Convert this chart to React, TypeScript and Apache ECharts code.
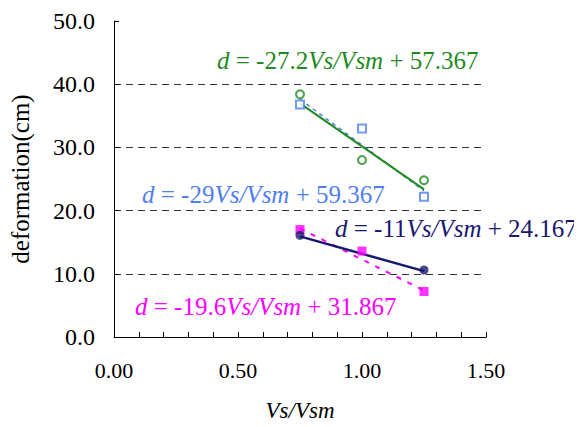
import React, { useEffect, useRef } from "react";
import * as echarts from "echarts";

const xValues = [0.75, 1.0, 1.25];
const greenValues = [38.4, 28.0, 24.8];
const blueValues = [36.8, 33.0, 22.2];
const navyX = [0.75, 1.25];
const navyValues = [16.1, 10.6];
const magentaValues = [17.0, 13.6, 7.2];

// trendline coefficients (slope, intercept)
const greenFit = [-27.2, 57.367];
const blueFit = [-29, 59.367];
const navyFit = [-11, 24.167];
const magentaFit = [-19.6, 31.867];
const fitRange = [0.75, 1.25];

const xTicks = [0, 0.5, 1.0, 1.5];
const yTicks = [0, 10, 20, 30, 40, 50];

const GREEN = "#1f8a1f";
const BLUE = "#4f7ff0";
const NAVY = "#18186e";
const MAGENTA = "#ff00ff";
const FONT = "Times New Roman, Liberation Serif, serif";

const pts = (xs: number[], ys: number[]) => xs.map((x, i) => [x, ys[i]]);
const fitLine = (f: number[]) => fitRange.map((x) => [x, f[0] * x + f[1]]);

const eqLabel = (
  slope: string,
  intercept: string,
  left: number,
  top: number,
  color: string
) => ({
  type: "text",
  left,
  top,
  z: 100,
  style: {
    text: `{i|d} = ${slope}{i|Vs/Vsm} + ${intercept}`,
    fill: color,
    fontFamily: FONT,
    fontSize: 25,
    rich: {
      i: { fontStyle: "italic", fontFamily: FONT, fontSize: 25, fill: color },
    },
  },
});

export default function App() {
  const ref = useRef<HTMLDivElement>(null);
  useEffect(() => {
    if (!ref.current) return;
    const chart = echarts.init(ref.current, undefined, { renderer: "svg" });
    chart.setOption({
      animation: false,
      backgroundColor: "#ffffff",
      textStyle: { fontFamily: FONT },
      grid: { left: 111, right: 96, top: 21, bottom: 90, containLabel: false },
      xAxis: {
        type: "value",
        min: xTicks[0],
        max: xTicks[xTicks.length - 1],
        interval: 0.5,
        name: "Vs/Vsm",
        nameLocation: "middle",
        nameGap: 62,
        nameTextStyle: {
          fontFamily: FONT,
          fontSize: 23,
          fontStyle: "italic",
          color: "#000",
        },
        axisLine: { show: true, lineStyle: { color: "#000", width: 1 } },
        axisTick: { show: true, inside: true, length: 5, lineStyle: { color: "#000" } },
        minorTick: { show: true, splitNumber: 5, length: 5, lineStyle: { color: "#000" } },
        splitLine: { show: false },
        axisLabel: {
          margin: 22,
          fontFamily: FONT,
          fontSize: 22,
          color: "#000",
          formatter: (v: number) => v.toFixed(2),
        },
      },
      yAxis: {
        type: "value",
        min: yTicks[0],
        max: yTicks[yTicks.length - 1],
        interval: 10,
        name: "deformation(cm)",
        nameLocation: "middle",
        nameGap: 81,
        nameTextStyle: { fontFamily: FONT, fontSize: 25, color: "#000" },
        axisLine: { show: true, lineStyle: { color: "#000", width: 1 } },
        axisTick: { show: true, inside: true, length: 5, lineStyle: { color: "#000" } },
        splitLine: {
          show: true,
          showMinLine: false,
          showMaxLine: false,
          lineStyle: { color: "#333", type: [7, 5], width: 1 },
        },
        axisLabel: {
          margin: 19,
          fontFamily: FONT,
          fontSize: 24,
          color: "#000",
          formatter: (v: number) => v.toFixed(1),
        },
      },
      series: [
        {
          type: "line",
          data: fitLine(blueFit),
          symbol: "none",
          lineStyle: { color: BLUE, width: 1.5, type: [4, 4] },
          z: 1,
        },
        {
          type: "line",
          data: fitLine(greenFit),
          symbol: "none",
          lineStyle: { color: GREEN, width: 2 },
          z: 2,
        },
        {
          type: "line",
          data: fitLine(magentaFit),
          symbol: "none",
          lineStyle: { color: MAGENTA, width: 2, type: [5, 7] },
          z: 1,
        },
        {
          type: "line",
          data: fitLine(navyFit),
          symbol: "none",
          lineStyle: { color: NAVY, width: 2.5 },
          z: 2,
        },
        {
          type: "scatter",
          data: pts(xValues, greenValues),
          symbol: "circle",
          symbolSize: 8,
          itemStyle: { color: "#fff", borderColor: GREEN, borderWidth: 2 },
          z: 3,
        },
        {
          type: "scatter",
          data: pts(xValues, blueValues),
          symbol: "rect",
          symbolSize: 8,
          itemStyle: { color: "#fff", borderColor: BLUE, borderWidth: 2 },
          z: 3,
        },
        {
          type: "scatter",
          data: pts(xValues, magentaValues),
          symbol: "rect",
          symbolSize: 9,
          itemStyle: { color: MAGENTA },
          z: 3,
        },
        {
          type: "scatter",
          data: pts(navyX, navyValues),
          symbol: "circle",
          symbolSize: 9,
          itemStyle: { color: NAVY },
          z: 4,
        },
      ],
      graphic: [
        eqLabel("-27.2", "57.367", 217, 48, GREEN),
        eqLabel("-29", "59.367", 142, 182, BLUE),
        eqLabel("-11", "24.167", 335, 216, NAVY),
        eqLabel("-19.6", "31.867", 135, 294, MAGENTA),
      ],
    });
    return () => chart.dispose();
  }, []);
  return <div ref={ref} style={{ width: 582, height: 427, margin: -8 }} />;
}
